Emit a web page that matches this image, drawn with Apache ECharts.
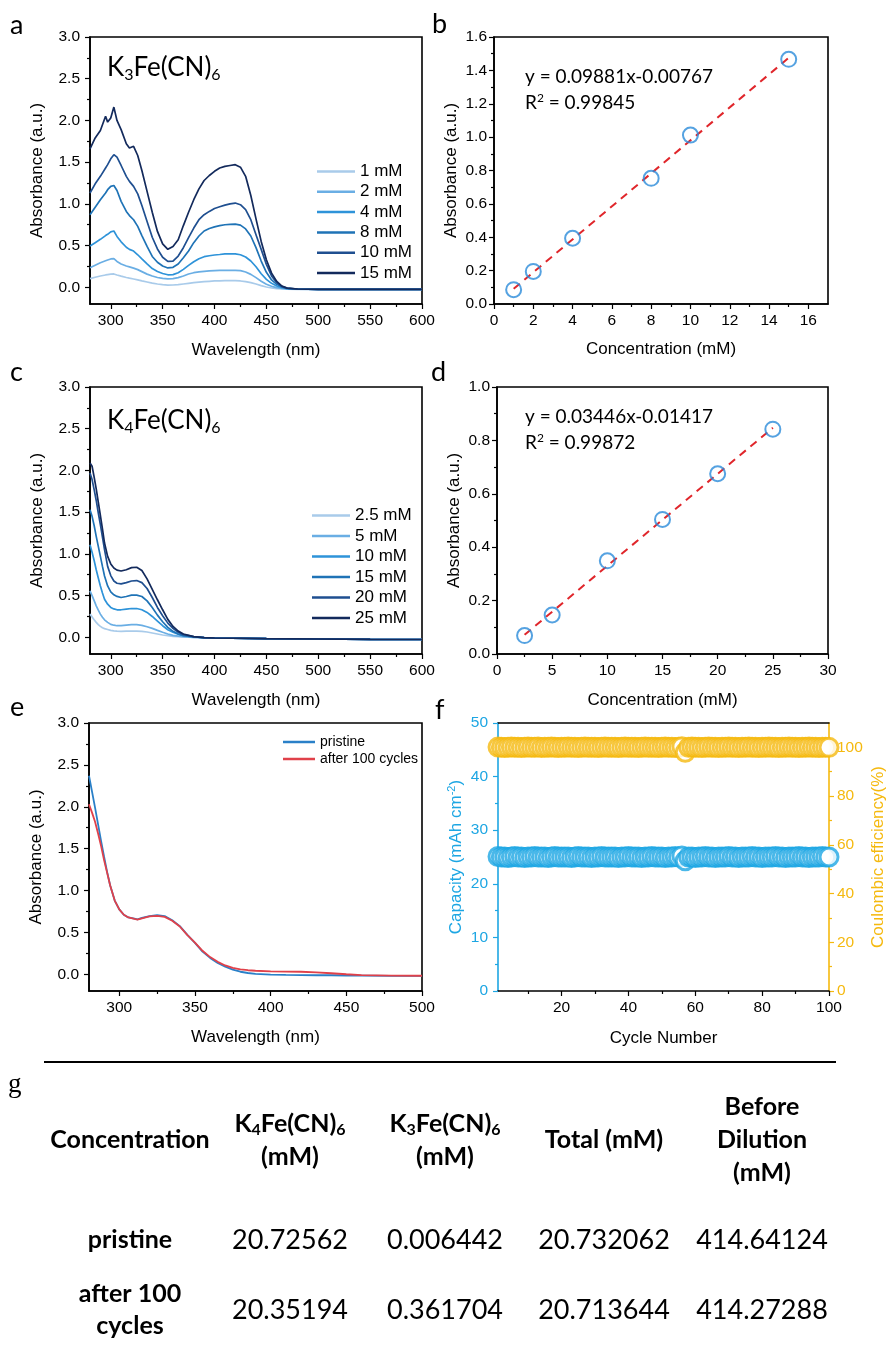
<!DOCTYPE html>
<html><head><meta charset="utf-8">
<script src="https://cdn.jsdelivr.net/npm/echarts@6/dist/echarts.min.js"></script>
<style>html,body{margin:0;padding:0;background:#fff}#c{width:889px;height:1354px}</style>
</head><body><div id="c"></div>
<script>
// ---------------- DATA ----------------
// Panel a: K3Fe(CN)6 spectra
const WL_A = [280,285,290,295,297,300,303,306,310,315,318,322,326,330,335,340,345,350,355,360,365,370,375,380,385,390,395,400,405,410,415,420,425,430,435,440,445,450,455,460,465,470,480,500,550,600];
const A_1MM = [0.104,0.12,0.136,0.148,0.152,0.158,0.16, 0.148,0.134,0.118,0.11,0.10,0.09,0.078,0.064,0.05,0.04, 0.032,0.026,0.028,0.032,0.04,0.048,0.056,0.062,0.068,0.072, 0.076,0.078,0.08,0.08,0.08,0.076,0.068,0.056,0.04,0.02, 0.004,-0.008,-0.015,-0.02,-0.022,-0.024,-0.025,-0.025,-0.025];
const A_2MM = [0.235,0.265,0.295,0.318,0.327,0.34,0.343, 0.31,0.28,0.255,0.245,0.23,0.212,0.188,0.158,0.135,0.118, 0.107,0.10,0.104,0.116,0.136,0.16,0.175,0.184,0.19,0.196, 0.2,0.202,0.203,0.203,0.203,0.2,0.183,0.155,0.116,0.072, 0.036,0.012,-0.004,-0.012,-0.018,-0.022,-0.024,-0.025,-0.025];
const A_4MM = [0.495,0.535,0.575,0.62,0.635,0.665,0.675, 0.61,0.545,0.48,0.455,0.435,0.39,0.34,0.28,0.225,0.19, 0.165,0.15,0.152,0.175,0.215,0.263,0.307,0.343,0.367,0.378, 0.387,0.393,0.40,0.40,0.40,0.39,0.363,0.315,0.247,0.163, 0.096,0.048,0.016,-0.004,-0.015,-0.02,-0.024,-0.025,-0.025];
const A_8MM = [0.87,0.96,1.05,1.13,1.17,1.21,1.22, 1.16,1.03,0.91,0.86,0.81,0.73,0.62,0.49,0.37,0.30, 0.255,0.232,0.24,0.28,0.355,0.435,0.535,0.615,0.675,0.705, 0.725,0.74,0.75,0.755,0.758,0.745,0.70,0.615,0.475,0.315, 0.18,0.088,0.036,0.004,-0.012,-0.02,-0.024,-0.025,-0.025];
const A_10MM = [1.13,1.24,1.33,1.43,1.47,1.54,1.59, 1.56,1.46,1.33,1.27,1.21,1.12,0.98,0.79,0.60,0.46, 0.36,0.31,0.315,0.375,0.475,0.595,0.71,0.81,0.87,0.91, 0.945,0.965,0.985,1.0,1.01,0.99,0.93,0.81,0.63,0.455, 0.275,0.136,0.056,0.008,-0.01,-0.02,-0.024,-0.025,-0.025];
const A_15MM = [1.66,1.79,1.88,2.05,1.98,2.03,2.16, 2.0,1.89,1.72,1.67,1.69,1.58,1.40,1.15,0.90,0.67, 0.52,0.455,0.49,0.57,0.74,0.90,1.05,1.18,1.28,1.34, 1.39,1.43,1.45,1.46,1.47,1.44,1.33,1.10,0.82,0.55, 0.33,0.17,0.07,0.015,-0.01,-0.02,-0.024,-0.025,-0.025];
const A_NAMES = ['1 mM','2 mM','4 mM','8 mM','10 mM','15 mM'];

// Panel b: calibration K3Fe(CN)6
const B_CONC = [1,2,4,8,10,15];
const B_ABS = [0.086,0.195,0.394,0.753,1.012,1.466];
const B_FIT_X = [1,15];
const B_FIT_Y = [0.091,1.475];

// Panel c: K4Fe(CN)6 spectra
const WL_C = [280,282,284,286,288,290,292,294,297,300,303,306,310,315,320,325,330,335,340,345,350,355,360,365,370,380,390,400,450,500,550,600];
const C_25MM = [2.09,2.05,1.92,1.78,1.62,1.46,1.30,1.13, 0.97,0.88,0.83,0.805, 0.795,0.81,0.835,0.84,0.80,0.70,0.575,0.45, 0.33,0.215,0.13,0.075,0.04, 0.008,-0.003,-0.008, -0.015,-0.02,-0.024,-0.026];
const C_20MM = [1.97,1.89,1.77,1.64,1.49,1.35,1.20,1.05, 0.85,0.74,0.675,0.648, 0.64,0.655,0.675,0.68,0.655,0.585,0.477,0.358, 0.258,0.17,0.107,0.06,0.032, 0.008,-0.004,-0.008, -0.015,-0.02,-0.024,-0.026];
const C_15MM = [1.53,1.45,1.34,1.21,1.09,0.97,0.85,0.735, 0.616,0.544,0.51,0.49, 0.477,0.489,0.505,0.505,0.489,0.437,0.358,0.266, 0.187,0.12,0.072,0.04,0.02, 0.004,-0.004,-0.008, -0.015,-0.02,-0.024,-0.026];
const C_10MM = [1.11,1.02,0.92,0.81,0.71,0.616,0.53,0.457, 0.397,0.358,0.34,0.33, 0.33,0.338,0.345,0.345,0.33,0.298,0.25,0.195, 0.139,0.091,0.06,0.036,0.02, 0.004,-0.004,-0.008, -0.015,-0.02,-0.024,-0.026];
const C_5MM = [0.556,0.50,0.44,0.377,0.325,0.278,0.24,0.21, 0.179,0.155,0.145,0.139, 0.139,0.147,0.151,0.151,0.143,0.127,0.107,0.083, 0.06,0.04,0.024,0.014,0.008, 0.0,-0.005,-0.008, -0.015,-0.02,-0.024,-0.026];
const C_2_5MM = [0.278,0.245,0.21,0.179,0.152,0.131,0.115,0.104, 0.094,0.083,0.078,0.075, 0.072,0.074,0.075,0.075,0.072,0.064,0.052,0.04, 0.028,0.02,0.012,0.008,0.004, 0.0,-0.005,-0.008, -0.015,-0.02,-0.024,-0.026];
const C_NAMES = ['2.5 mM','5 mM','10 mM','15 mM','20 mM','25 mM'];

// Panel d: calibration K4Fe(CN)6
const D_CONC = [2.5,5,10,15,20,25];
const D_ABS = [0.069,0.146,0.349,0.504,0.675,0.842];
const D_FIT_X = [2.5,25];
const D_FIT_Y = [0.072,0.847];

// Panel e: pristine vs after 100 cycles
const WL_E = [280,282,284,286,288,290,292,294,297,300,303,306,310,312,315,320,325,330,335,340,345,350,355,360,365,370,375,380,385,390,400,410,420,430,440,450,460,480,500];
const E_PRISTINE = [2.37,2.18,1.99,1.79,1.59,1.40,1.22,1.06, 0.88,0.775,0.71,0.678, 0.663,0.655,0.672,0.695,0.707,0.695,0.645,0.575, 0.47,0.375,0.27,0.195,0.135,0.09,0.055,0.03, 0.015,0.005,-0.005,-0.008,-0.01,-0.012,-0.012,-0.015, -0.017,-0.02,-0.02];
const E_AFTER = [2.03,1.93,1.82,1.68,1.53,1.36,1.21,1.06, 0.88,0.775,0.71,0.678, 0.66,0.652,0.668,0.69,0.697,0.685,0.638,0.57, 0.468,0.378,0.28,0.205,0.148,0.105,0.075,0.058, 0.048,0.042,0.035,0.032,0.03,0.022,0.012,0.0, -0.01,-0.016,-0.018];
const E_NAMES = ['pristine','after 100 cycles'];

// Panel f: cycling (cycle n = index + 1)
const F_CAPACITY = [
25.1,25.0,25.0,24.9,25.0,25.1,25.0,25.0,24.9,25.0,
25.0,25.1,25.0,25.0,25.0,24.9,25.0,25.1,25.0,25.0,
25.0,25.0,24.9,25.0,25.1,25.0,25.0,25.0,24.9,25.0,
25.0,25.1,25.0,25.0,25.0,25.0,24.9,25.0,25.0,25.1,
25.0,25.0,25.0,24.9,25.0,25.0,25.1,25.0,25.0,25.0,
24.9,25.0,25.0,25.1,25.0,25.2,24.3,25.0,25.0,24.9,
25.0,25.0,25.1,25.0,25.0,24.9,25.0,25.0,25.0,25.1,
25.0,25.0,24.9,25.0,25.0,25.0,25.1,25.0,25.0,24.9,
25.0,25.0,25.0,25.1,25.0,25.0,24.9,25.0,25.0,25.0,
25.1,25.0,25.0,24.9,25.0,25.0,25.0,25.1,25.0,25.0];
const F_CE = [
100.1,100.0,99.9,100.0,100.1,100.0,100.0,99.9,100.0,100.1,
100.0,100.0,100.1,99.9,100.0,100.0,100.1,100.0,99.9,100.0,
100.0,100.1,100.0,100.0,99.9,100.0,100.1,100.0,100.0,100.0,
99.9,100.0,100.1,100.0,100.0,100.0,99.9,100.0,100.1,100.0,
100.0,100.0,99.9,100.0,100.1,100.0,100.0,100.0,99.9,100.0,
100.1,100.0,100.0,99.9,100.0,100.3,98.0,100.0,100.1,100.0,
100.0,99.9,100.0,100.1,100.0,100.0,99.9,100.0,100.0,100.1,
100.0,100.0,99.9,100.0,100.0,100.1,100.0,100.0,99.9,100.0,
100.0,100.1,100.0,100.0,99.9,100.0,100.0,100.1,100.0,100.0,
99.9,100.0,100.0,100.1,100.0,100.0,99.9,100.0,100.0,100.0];

// Tick values
const ABS_TICKS = [0,0.5,1.0,1.5,2.0,2.5,3.0];
const ABS_MINOR = [0.25,0.75,1.25,1.75,2.25,2.75];
const WL_TICKS_600 = [300,350,400,450,500,550,600];
const WL_MINOR_600 = [325,375,425,475,525,575];
const WL_TICKS_500 = [300,350,400,450,500];
const WL_MINOR_500 = [325,375,425,475];
const B_X_TICKS = [0,2,4,6,8,10,12,14,16];
const B_X_MINOR = [1,3,5,7,9,11,13,15];
const B_Y_TICKS = [0,0.2,0.4,0.6,0.8,1.0,1.2,1.4,1.6];
const B_Y_MINOR = [0.1,0.3,0.5,0.7,0.9,1.1,1.3,1.5];
const D_X_TICKS = [0,5,10,15,20,25,30];
const D_X_MINOR = [2.5,7.5,12.5,17.5,22.5,27.5];
const D_Y_TICKS = [0,0.2,0.4,0.6,0.8,1.0];
const D_Y_MINOR = [0.1,0.3,0.5,0.7,0.9];
const F_X_TICKS = [20,40,60,80,100];
const F_X_MINOR = [10,30,50,70,90];
const F_Y1_TICKS = [0,10,20,30,40,50];
const F_Y1_MINOR = [5,15,25,35,45];
const F_Y2_TICKS = [0,20,40,60,80,100];
const F_Y2_MINOR = [10,30,50,70,90];

// Table g
const TABLE_HEADERS = ['Concentration','K4Fe(CN)6|(mM)','K3Fe(CN)6|(mM)','Total (mM)','Before|Dilution|(mM)'];
const TABLE_ROWS = ['pristine','after 100|cycles'];
const COL_K4 = ['20.72562','20.35194'];
const COL_K3 = ['0.006442','0.361704'];
const COL_TOTAL = ['20.732062','20.713644'];
const COL_BEFORE = ['414.64124','414.27288'];

// ---------------- STYLE / LAYOUT ----------------
const FA = "'Liberation Sans', Arial, sans-serif";
const FL = "Lato, 'Open Sans', sans-serif";
const COLORS_A = ['#A9CBEA','#6AAEE4','#2E93D9','#1F73B6','#1F4F90','#132A5C'];
const COLORS_C = ['#A9CBEA','#6AAEE4','#2E93D9','#1F73B6','#1F4F90','#132A5C'];
const BLUE_F = '#1DA6E3', YEL_F = '#F5B90F';

const G = [
  {left:90, top:37, width:332, height:267},
  {left:494, top:37, width:334, height:267},
  {left:90, top:387, width:332, height:267},
  {left:497, top:387, width:331, height:267},
  {left:89, top:723, width:333, height:268},
  {left:498, top:723, width:331, height:268}
];
const grid = G.map((g,i)=>Object.assign({show: i!==5, borderColor:'#000', borderWidth:1.6, backgroundColor:'rgba(0,0,0,0)'}, g));

const xAxis = [], yAxis = [];
function addAxis(kind, gi, o){
  const list = kind==='x' ? xAxis : yAxis;
  const col = o.color || '#000';
  const idx = list.length;
  list.push({
    type:'value', gridIndex:gi, min:o.min, max:o.max, position:o.pos,
    name:o.name||'', nameLocation:'middle', nameGap:o.gap||30, nameRotate: kind==='y'?90:0,
    nameTextStyle:{fontFamily:FA, fontSize:17, color:col, rich:o.rich},
    axisLine:{show:true, onZero:false, lineStyle:{color:col, width:1.6}},
    axisTick:{show:true, length:5, customValues:o.ticks, lineStyle:{color:col, width:1.2}},
    axisLabel:{show:true, customValues:o.ticks, formatter:o.fmt || (v=>String(v)), fontFamily:FA, fontSize:15.5, color:col, margin:o.margin||9},
    splitLine:{show:false}
  });
  if (o.minor) list.push({
    type:'value', gridIndex:gi, min:o.min, max:o.max, position:o.pos,
    axisLine:{show:false, onZero:false}, axisLabel:{show:false}, splitLine:{show:false},
    axisTick:{show:true, length:3, customValues:o.minor, lineStyle:{color:col, width:1.2}}
  });
  return idx;
}
const f1 = v => v.toFixed(1);

// a
const xa = addAxis('x',0,{min:280,max:600,pos:'bottom',ticks:WL_TICKS_600,minor:WL_MINOR_600,name:'Wavelength (nm)',gap:38,margin:9});
const ya = addAxis('y',0,{min:-0.2,max:3.0,pos:'left',ticks:ABS_TICKS,minor:ABS_MINOR,fmt:f1,name:'Absorbance (a.u.)',gap:44,margin:10});
// b
const xb = addAxis('x',1,{min:0,max:17,pos:'bottom',ticks:B_X_TICKS,minor:B_X_MINOR,name:'Concentration (mM)',gap:37,margin:9});
const yb = addAxis('y',1,{min:0,max:1.6,pos:'left',ticks:B_Y_TICKS,minor:B_Y_MINOR,fmt:f1,name:'Absorbance (a.u.)',gap:34,margin:7});
// c
const xc = addAxis('x',2,{min:280,max:600,pos:'bottom',ticks:WL_TICKS_600,minor:WL_MINOR_600,name:'Wavelength (nm)',gap:38,margin:9});
const yc = addAxis('y',2,{min:-0.2,max:3.0,pos:'left',ticks:ABS_TICKS,minor:ABS_MINOR,fmt:f1,name:'Absorbance (a.u.)',gap:44,margin:10});
// d
const xd = addAxis('x',3,{min:0,max:30,pos:'bottom',ticks:D_X_TICKS,minor:D_X_MINOR,name:'Concentration (mM)',gap:38,margin:9});
const yd = addAxis('y',3,{min:0,max:1.0,pos:'left',ticks:D_Y_TICKS,minor:D_Y_MINOR,fmt:f1,name:'Absorbance (a.u.)',gap:34,margin:7});
// e
const xe = addAxis('x',4,{min:280,max:500,pos:'bottom',ticks:WL_TICKS_500,minor:WL_MINOR_500,name:'Wavelength (nm)',gap:38,margin:9});
const ye = addAxis('y',4,{min:-0.2,max:3.0,pos:'left',ticks:ABS_TICKS,minor:ABS_MINOR,fmt:f1,name:'Absorbance (a.u.)',gap:44,margin:10});
// f
const xf = addAxis('x',5,{min:1,max:100,pos:'bottom',ticks:F_X_TICKS,minor:F_X_MINOR,name:'Cycle Number',gap:39,margin:9});
xAxis.push({type:'value',gridIndex:5,min:1,max:100,position:'top',axisLine:{show:true,onZero:false,lineStyle:{color:'#000',width:1.6}},axisTick:{show:false},axisLabel:{show:false},splitLine:{show:false}});
const yf1 = addAxis('y',5,{min:0,max:50,pos:'left',ticks:F_Y1_TICKS,minor:F_Y1_MINOR,color:BLUE_F,gap:32,margin:10,
  name:'{a|Capacity (mAh cm}{s|-2}{a|)}',
  rich:{a:{fontFamily:FA,fontSize:17,color:BLUE_F},s:{fontFamily:FA,fontSize:11,color:BLUE_F,padding:[0,0,9,0]}}});
const yf2 = addAxis('y',5,{min:0,max:110,pos:'right',ticks:F_Y2_TICKS,minor:F_Y2_MINOR,color:YEL_F,gap:41,margin:8,name:'Coulombic efficiency(%)'});

// ---------------- SERIES ----------------
const series = [];
function lineSeries(name, xs, ys, xi, yi, color, width){
  series.push({type:'line', name, xAxisIndex:xi, yAxisIndex:yi, data: xs.map((x,i)=>[x, ys[i]]),
    showSymbol:false, symbol:'none', smooth:false, lineStyle:{width:width||1.7, color}, itemStyle:{color}, silent:true, z:3});
}
[A_1MM,A_2MM,A_4MM,A_8MM,A_10MM,A_15MM].forEach((arr,i)=>lineSeries(A_NAMES[i], WL_A, arr, xa, ya, COLORS_A[i]));
[C_2_5MM,C_5MM,C_10MM,C_15MM,C_20MM,C_25MM].forEach((arr,i)=>lineSeries(C_NAMES[i]+' ', WL_C, arr, xc, yc, COLORS_C[i]));
lineSeries(E_NAMES[0], WL_E, E_PRISTINE, xe, ye, '#2A80C8', 1.8);
lineSeries(E_NAMES[1], WL_E, E_AFTER, xe, ye, '#E0414A', 1.8);

function fitLine(xs, ys, xi, yi){
  series.push({type:'line', xAxisIndex:xi, yAxisIndex:yi, data: xs.map((x,i)=>[x, ys[i]]), showSymbol:false, symbol:'none',
    lineStyle:{color:'#E0262B', width:2, type:[8,6]}, silent:true, z:3});
}
function pts(xs, ys, xi, yi){
  series.push({type:'scatter', xAxisIndex:xi, yAxisIndex:yi, data: xs.map((x,i)=>[x, ys[i]]), symbol:'circle', symbolSize:15,
    itemStyle:{color:'rgba(255,255,255,0)', borderColor:'#2A8BDA', borderWidth:2}, silent:true, z:4});
}
fitLine(B_FIT_X, B_FIT_Y, xb, yb); pts(B_CONC, B_ABS, xb, yb);
fitLine(D_FIT_X, D_FIT_Y, xd, yd); pts(D_CONC, D_ABS, xd, yd);

series.push({type:'scatter', xAxisIndex:xf, yAxisIndex:yf1, data:F_CAPACITY.map((v,i)=>[i+1, v]), symbol:'circle', symbolSize:18,
  itemStyle:{color:'#fff', borderColor:BLUE_F, borderWidth:3}, silent:true, z:4});
series.push({type:'scatter', xAxisIndex:xf, yAxisIndex:yf2, data:F_CE.map((v,i)=>[i+1, v]), symbol:'circle', symbolSize:18,
  itemStyle:{color:'#fff', borderColor:YEL_F, borderWidth:3}, silent:true, z:4});

// ---------------- LEGENDS ----------------
const legendBase = {orient:'vertical', icon:'rect', selectedMode:false, padding:0, textStyle:{fontFamily:FA, fontSize:17, color:'#000'}};
const legend = [
  Object.assign({}, legendBase, {data:A_NAMES, left:317, top:163, itemWidth:38, itemHeight:2.5, itemGap:3.3}),
  Object.assign({}, legendBase, {data:C_NAMES.map(n=>n+' '), left:312, top:507, itemWidth:38, itemHeight:2.5, itemGap:3.5}),
  Object.assign({}, legendBase, {data:E_NAMES, left:283, top:735, itemWidth:32, itemHeight:2.5, itemGap:3, textStyle:{fontFamily:FA, fontSize:14, color:'#000'}})
];

// ---------------- GRAPHIC TEXT ----------------
const graphic = [];
function txt(x, y, text, o){
  o = o || {};
  graphic.push({type:'text', x, y, silent:true, z:10, style:{text, fill:'#000', fontFamily:o.ff||FL, fontSize:o.fs||20,
    fontWeight:o.fw||'normal', align:o.align||'left', verticalAlign:'middle', textAlign:o.align||'left', textVerticalAlign:'middle',
    lineHeight:o.lh, rich:o.rich}});
}
// panel letters
txt(10, 25, 'a', {fs:27}); txt(432, 24, 'b', {fs:27});
txt(10, 372, 'c', {fs:27}); txt(431, 372, 'd', {fs:27});
txt(10, 707, 'e', {fs:27}); txt(435, 710, 'f', {fs:27});
txt(8, 1085, 'g', {fs:27, ff:"'Liberation Serif', serif"});

function chem(str){
  return str.replace(/K(\d)Fe\(CN\)(\d)/, '{n|K}{s|$1}{n|Fe(CN)}{s|$2}');
}
const annRich = (fs, fw) => ({n:{fontFamily:FL,fontSize:fs,fontWeight:fw||'normal',fill:'#000'},
  s:{fontFamily:FL,fontSize:Math.round(fs*0.62),fontWeight:fw||'normal',fill:'#000',padding:[Math.round(fs*0.5),0,0,0]},
  p:{fontFamily:FL,fontSize:Math.round(fs*0.62),fill:'#000',padding:[0,0,Math.round(fs*0.5),0]}});
txt(107, 68, chem('K3Fe(CN)6'), {rich:annRich(26)});
txt(107, 421, chem('K4Fe(CN)6'), {rich:annRich(26)});
txt(525, 77, '{n|y = 0.09881x-0.00767}', {rich:annRich(19)});
txt(525, 103, '{n|R}{p|2}{n| = 0.99845}', {rich:annRich(19)});
txt(525, 417, '{n|y = 0.03446x-0.01417}', {rich:annRich(19)});
txt(525, 443, '{n|R}{p|2}{n| = 0.99872}', {rich:annRich(19)});

// table
graphic.push({type:'line', silent:true, shape:{x1:44, y1:1062, x2:836, y2:1062}, style:{stroke:'#000', lineWidth:2}});
const COLX = [130, 290, 445, 604, 762];
const HEAD_Y = 1140, ROW_Y = [1240, 1310];
TABLE_HEADERS.forEach((h,i)=>{
  const lines = h.split('|').map(l=>chem(l)).map(l=>l.indexOf('{')===0 ? l : '{n|'+l+'}');
  txt(COLX[i], HEAD_Y, lines.join('\n'), {align:'center', rich:annRich(25,'bold'), lh:33});
});
const COLS = [COL_K4, COL_K3, COL_TOTAL, COL_BEFORE];
TABLE_ROWS.forEach((r,ri)=>{
  txt(COLX[0], ROW_Y[ri], r.split('|').map(l=>'{n|'+l+'}').join('\n'), {align:'center', rich:annRich(25,'bold'), lh:32});
  COLS.forEach((col,ci)=>txt(COLX[ci+1], ROW_Y[ri], '{n|'+col[ri]+'}', {align:'center', rich:annRich(27)}));
});

const chart = echarts.init(document.getElementById('c'), null, {renderer:'canvas'});
chart.setOption({animation:false, backgroundColor:'#fff', grid, xAxis, yAxis, series, legend, graphic});
</script></body></html>
